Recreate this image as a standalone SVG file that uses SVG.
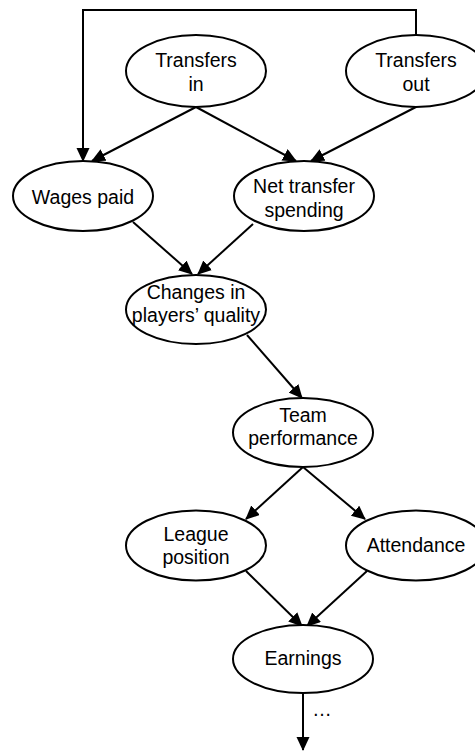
<svg xmlns="http://www.w3.org/2000/svg" width="475" height="751" viewBox="0 0 475 751">
<defs>
<marker id="ah" markerUnits="userSpaceOnUse" markerWidth="15" markerHeight="14" refX="13" refY="6.5" orient="auto">
<path d="M0,0 L14,6.5 L0,13 z" fill="#000"/>
</marker>
<style>
.n ellipse{fill:#fff;stroke:#000;stroke-width:2}
.n text{font-family:"Liberation Sans",Arial,sans-serif;font-size:19.5px;fill:#000;text-anchor:middle}
#edges path{fill:none;stroke:#000;stroke-width:2;marker-end:url(#ah)}
</style>
</defs>
<rect width="475" height="751" fill="#fff"/>
<g id="edges">
<path d="M416,35 V10 H83 V161"/>
<path d="M196,107 L92,161"/>
<path d="M196,107 L296,161"/>
<path d="M416,107 L311,161"/>
<path d="M133,222 L192,274"/>
<path d="M253,224 L198,274"/>
<path d="M247,335 L302,398"/>
<path d="M303,467 L246,519"/>
<path d="M303,467 L365,519"/>
<path d="M246,571 L302,626"/>
<path d="M367,571 L307,626"/>
<path d="M303,693 V750"/>
</g>
<g id="transfers-in" class="n"><ellipse cx="196" cy="71" rx="70" ry="36"/><text x="196" y="67">Transfers</text><text x="196" y="90.5">in</text></g>
<g id="transfers-out" class="n"><ellipse cx="416" cy="71" rx="70" ry="36"/><text x="416" y="67">Transfers</text><text x="416" y="90.5">out</text></g>
<g id="wages-paid" class="n"><ellipse cx="83" cy="196" rx="70" ry="35"/><text x="83" y="204">Wages paid</text></g>
<g id="net-transfer" class="n"><ellipse cx="304" cy="196" rx="70" ry="35"/><text x="304" y="193">Net transfer</text><text x="304" y="216.5">spending</text></g>
<g id="changes" class="n"><ellipse cx="196" cy="309.5" rx="70" ry="34.5"/><text x="196" y="299">Changes in</text><text x="196" y="322">players’ quality</text></g>
<g id="team" class="n"><ellipse cx="303" cy="432.5" rx="70" ry="34.5"/><text x="303" y="422">Team</text><text x="303" y="445">performance</text></g>
<g id="league" class="n"><ellipse cx="196" cy="545.5" rx="70" ry="35"/><text x="196" y="540.5">League</text><text x="196" y="564">position</text></g>
<g id="attendance" class="n"><ellipse cx="416" cy="545.5" rx="70" ry="35"/><text x="416" y="552">Attendance</text></g>
<g id="earnings" class="n"><ellipse cx="303" cy="659" rx="70" ry="34"/><text x="303" y="665">Earnings</text></g>
<g id="ellipsis" class="n"><text x="322" y="716">…</text></g>
</svg>
